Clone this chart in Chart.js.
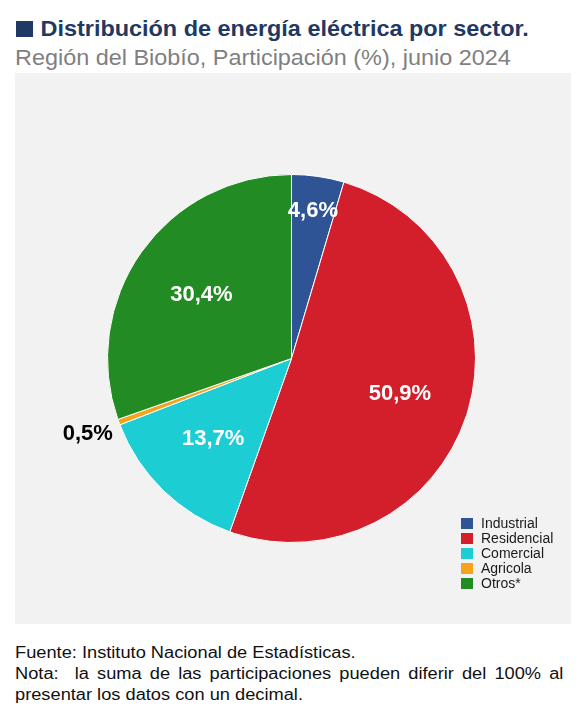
<!DOCTYPE html>
<html>
<head>
<meta charset="utf-8">
<script src="https://cdn.jsdelivr.net/npm/chart.js@4.4.0/dist/chart.umd.min.js"></script>
<style>
  body { margin: 0; background: #fff; font-family: "Liberation Sans", Arial, sans-serif; }
  #page { position: relative; width: 579px; height: 720px; }
  #title { position: absolute; left: 16px; top: 16px; font-size: 22px; font-weight: bold; color: #1f3864; white-space: nowrap; transform: scaleX(1.065); transform-origin: 0 0; }
  #title .sq { display: inline-block; width: 16px; height: 16px; background: #1f3864; margin-right: 7px; vertical-align: -1px; }
  #subtitle { position: absolute; left: 15px; top: 45px; font-size: 22px; color: #7f7f7f; white-space: nowrap; transform: scaleX(1.064); transform-origin: 0 0; }
  #box { position: absolute; left: 15px; top: 73px; width: 556px; height: 551px; background: #f2f2f2; }
  #box canvas { position: absolute; left: 0; top: 0; }
  #legend { position: absolute; left: 446px; top: 443px; font-size: 14px; color: #1a1a1a; }
  #legend div { height: 15px; line-height: 15px; white-space: nowrap; }
  #legend span { display: inline-block; width: 12px; height: 11px; margin-right: 8px; vertical-align: -1px; }
  #foot { position: absolute; left: 15px; top: 642px; width: 481px; font-size: 16px; line-height: 21px; color: #111; transform: scaleX(1.14); transform-origin: 0 0; }
  #foot .just { text-align: justify; text-align-last: justify; }
</style>
</head>
<body>
<div id="page">
  <div id="title"><span class="sq"></span>Distribución de energía eléctrica por sector.</div>
  <div id="subtitle">Región del Biobío, Participación (%), junio 2024</div>
  <div id="box">
    <canvas id="pie" width="556" height="551"></canvas>
    <div id="legend"></div>
  </div>
  <div id="foot">
    <div>Fuente: Instituto Nacional de Estadísticas.</div>
    <div class="just">Nota:&nbsp; la suma de las participaciones pueden diferir del 100% al</div>
    <div>presentar los datos con un decimal.</div>
  </div>
</div>
<script>
// datos
const categories = ['Industrial', 'Residencial', 'Comercial', 'Agricola', 'Otros*'];
const values = [4.6, 50.9, 13.7, 0.5, 30.4];

const sliceColors = ['#2e5496', '#d21f2b', '#1dcdd4', '#f5a31a', '#238b23'];
// distancia de la etiqueta al centro (fraccion del radio) y color del texto
const labelRadius = [0.81, 0.62, 0.61, 1.18, 0.6];
const labelColors = ['#fff', '#fff', '#fff', '#000', '#fff'];

function fmt(v){
    return v.toFixed(1).replace('.', ',') + '%'
}

const sliceLabels = {
    id: 'sliceLabels',
    afterDatasetsDraw(chart){
        const ctx = chart.ctx
        const meta = chart.getDatasetMeta(0)
        ctx.save()
        ctx.font = 'bold 22px "Liberation Sans", Arial, sans-serif'
        ctx.textAlign = 'center'
        ctx.textBaseline = 'middle'
        meta.data.forEach((arc, i) => {
            const p = arc.getProps(['x', 'y', 'startAngle', 'endAngle', 'outerRadius'], true)
            const mid = (p.startAngle + p.endAngle) / 2
            const r = p.outerRadius * labelRadius[i]
            ctx.fillStyle = labelColors[i]
            ctx.fillText(fmt(values[i]), p.x + Math.cos(mid) * r, p.y + Math.sin(mid) * r)
        })
        ctx.restore()
    }
}

const data = {
    labels: categories,
    datasets: [{
        data: values,
        backgroundColor: sliceColors,
        borderColor: '#ffffff',
        borderWidth: 1
    }]
};

const config = {
    type: 'pie',
    data: data,
    options: {
        responsive: false,
        animation: false,
        layout: { padding: { left: 92, right: 95, top: 101, bottom: 81 } },
        plugins: {
            legend: { display: false },
            tooltip: { enabled: false }
        }
    },
    plugins: [sliceLabels]
};

const chart = new Chart(document.getElementById('pie').getContext('2d'), config)

// leyenda en html con los mismos colores del grafico
const items = chart.options.plugins.legend.labels.generateLabels(chart)
const leg = document.getElementById('legend')
items.forEach(it => {
    const row = document.createElement('div')
    const sw = document.createElement('span')
    sw.style.background = it.fillStyle
    row.appendChild(sw)
    row.appendChild(document.createTextNode(it.text))
    leg.appendChild(row)
})
</script>
</body>
</html>
